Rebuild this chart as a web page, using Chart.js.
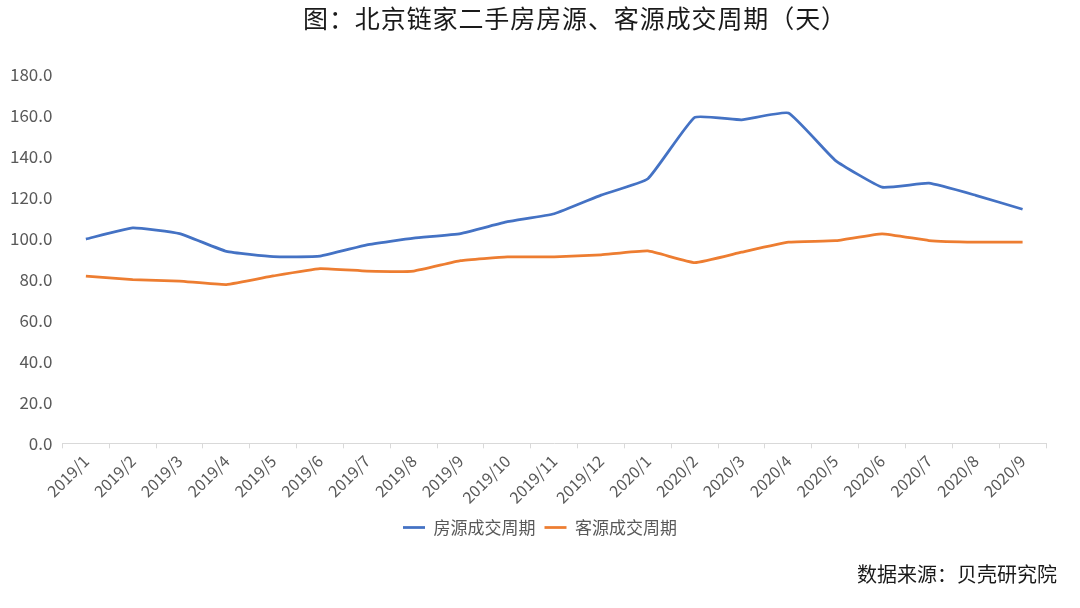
<!DOCTYPE html>
<html>
<head>
<meta charset="utf-8">
<script src="https://cdn.jsdelivr.net/npm/chart.js@4"></script>
<style>
  html, body { margin: 0; padding: 0; background: #fff; }
  #wrap { width: 1080px; height: 608px; position: relative; }
</style>
</head>
<body>
<div id="wrap"><canvas id="chart"></canvas></div>
<script>
const months = ['2019/1', '2019/2', '2019/3', '2019/4', '2019/5', '2019/6', '2019/7',
  '2019/8', '2019/9', '2019/10', '2019/11', '2019/12', '2020/1', '2020/2', '2020/3',
  '2020/4', '2020/5', '2020/6', '2020/7', '2020/8', '2020/9'];
// 房源成交周期
const listingCycle = [99.8, 105.3, 102.5, 93.8, 91.2, 91.5, 97.0, 100.3, 102.5, 108.3, 112.2,
  121.3, 129.3, 159.3, 158.1, 161.4, 138.3, 125.2, 127.1, 121.2, 114.4];
// 客源成交周期
const buyerCycle = [81.7, 80.0, 79.3, 77.6, 81.8, 85.4, 84.2, 84.2, 89.3, 91.1, 91.1,
  92.1, 94.0, 88.3, 93.4, 98.3, 99.0, 102.4, 99.1, 98.3, 98.3];
const yTicks = [0, 20, 40, 60, 80, 100, 120, 140, 160, 180];

const FONT = '"Noto Sans CJK SC", "Noto Sans", sans-serif';
const GRAY = '#595959';

// title on top and 数据来源 at bottom right
const extraText = {
  id: 'extraText',
  afterLayout(chart) {
    // centre the legend on the whole page, not on the padded box
    const lg = chart.legend;
    if (lg) {
      const shift = 540 - (lg.left + lg.right) / 2;
      lg.left += shift;
      lg.right += shift;
    }
  },
  afterDraw(chart) {
    const ctx = chart.ctx;
    ctx.save();
    ctx.fillStyle = '#1a1a1a';
    ctx.textBaseline = 'middle';
    ctx.font = '25px ' + FONT;
    ctx.letterSpacing = '0.9px';
    ctx.textAlign = 'center';
    ctx.fillText('图：北京链家二手房房源、客源成交周期（天）', 575, 18);
    ctx.letterSpacing = '0px';
    ctx.font = '20px ' + FONT;
    ctx.textAlign = 'right';
    ctx.fillText('数据来源：贝壳研究院', 1057, 574);
    ctx.restore();
  }
};

new Chart(document.getElementById('chart'), {
  type: 'line',
  data: {
    labels: months,
    datasets: [
      {
        label: '房源成交周期',
        data: listingCycle,
        borderColor: '#4472C4',
        backgroundColor: '#4472C4',
        borderWidth: 2.75,
        pointRadius: 0,
        tension: 0.12,
      },
      {
        label: '客源成交周期',
        data: buyerCycle,
        borderColor: '#ED7D31',
        backgroundColor: '#ED7D31',
        borderWidth: 2.75,
        pointRadius: 0,
        tension: 0.12,
      },
    ],
  },
  options: {
    responsive: true,
    maintainAspectRatio: false,
    animation: false,
    layout: { padding: { left: 0, right: 34, top: 75, bottom: 62 } },
    plugins: {
      title: { display: false },
      legend: {
        position: 'bottom',
        labels: {
          usePointStyle: true,
          pointStyle: 'line',
          pointStyleWidth: 22,
          color: GRAY,
          font: { family: FONT, size: 17 },
          padding: 9,
        },
      },
      tooltip: { enabled: false },
    },
    scales: {
      x: {
        offset: true,
        grid: { display: true, offset: true, drawOnChartArea: false, drawTicks: true, tickLength: 5, color: '#d9d9d9' },
        border: { display: true, color: '#d9d9d9' },
        ticks: {
          color: GRAY,
          font: { family: FONT, size: 16 },
          maxRotation: 45,
          minRotation: 45,
          autoSkip: false,
        },
        afterFit(scale) {
          scale.paddingLeft = 0;
        },
      },
      y: {
        min: 0,
        max: 180,
        grid: { display: false, drawTicks: false },
        border: { display: false },
        afterBuildTicks(scale) {
          scale.ticks = yTicks.map(v => ({ value: v }));
        },
        ticks: {
          color: GRAY,
          font: { family: FONT, size: 17 },
          padding: 10,
          callback: v => Number(v).toFixed(1),
        },
      },
    },
  },
  plugins: [extraText],
});
</script>
</body>
</html>
